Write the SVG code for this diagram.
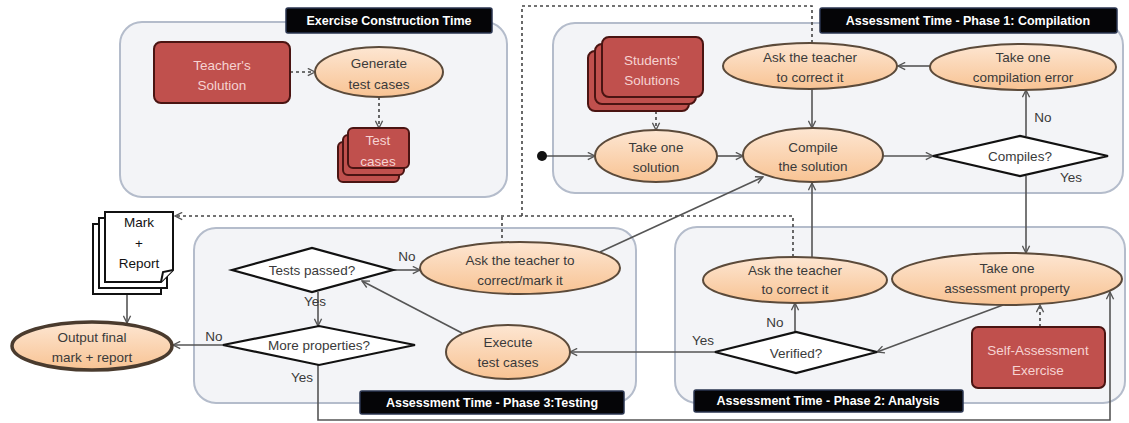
<svg xmlns="http://www.w3.org/2000/svg" width="1129" height="423" viewBox="0 0 1129 423">
<style>
.panel{fill:#f3f4f7;stroke:#b4bccb;stroke-width:2}
.title{fill:#050507;stroke:#2a3550;stroke-width:1.5}
.tt{fill:#ffffff;font-family:"Liberation Sans",Arial,sans-serif;font-size:12.5px;font-weight:bold;text-anchor:middle}
.ell{fill:url(#peach);stroke:#5b4a3a;stroke-width:2}
.red{fill:#c0504d;stroke:#4a1412;stroke-width:2}
.dia{fill:#ffffff;stroke:#111111;stroke-width:2.2}
.doc{fill:#ffffff;stroke:#111111;stroke-width:2}
.t{fill:#3a3a3a;font-family:"Liberation Sans",Arial,sans-serif;font-size:13.5px;text-anchor:middle}
.tr{fill:#f6d3d2;font-family:"Liberation Sans",Arial,sans-serif;font-size:13.5px;text-anchor:middle}
.tk{fill:#111111;font-family:"Liberation Sans",Arial,sans-serif;font-size:13.5px;text-anchor:middle}
.c{fill:none;stroke:#555555;stroke-width:1.6}
.d{fill:none;stroke:#444444;stroke-width:1.6;stroke-dasharray:3 3}
</style>
<defs>
<linearGradient id="peach" x1="0" y1="0" x2="0" y2="1">
<stop offset="0" stop-color="#fde6d2"/>
<stop offset="1" stop-color="#f8c393"/>
</linearGradient>
<marker id="arr" viewBox="0 0 10 10" refX="9" refY="5" markerWidth="9" markerHeight="9" orient="auto" markerUnits="userSpaceOnUse">
<path d="M1,1 L9,5 L1,9" fill="none" stroke="#555555" stroke-width="1.5"/>
</marker>
</defs>

<!-- panels -->
<g id="panel-exercise">
<rect class="panel" x="120" y="22" width="387" height="175" rx="22"/>
<rect class="title" x="286" y="8" width="206" height="25" rx="2"/>
<text class="tt" x="389" y="25">Exercise Construction Time</text>
</g>
<g id="panel-phase1">
<rect class="panel" x="553" y="23" width="570" height="170" rx="22"/>
<rect class="title" x="820" y="8" width="297" height="25" rx="2"/>
<text class="tt" x="968" y="25">Assessment Time - Phase 1: Compilation</text>
</g>
<g id="panel-phase3">
<rect class="panel" x="194" y="228" width="442" height="175" rx="22"/>
</g>
<g id="panel-phase2">
<rect class="panel" x="675" y="227" width="450" height="176" rx="22"/>
</g>

<!-- connectors -->
<g id="connectors">
<path class="d" d="M290,72 H315" marker-end="url(#arr)"/>
<path class="d" d="M379,97 V128" marker-end="url(#arr)"/>
<path class="d" d="M656,111 V130" marker-end="url(#arr)"/>
<path class="c" d="M542,156 H595" marker-end="url(#arr)"/>
<path class="c" d="M717,156 H743" marker-end="url(#arr)"/>
<path class="c" d="M883,156 H933" marker-end="url(#arr)"/>
<path class="c" d="M1026,136 V90" marker-end="url(#arr)"/>
<path class="c" d="M930,66 H898" marker-end="url(#arr)"/>
<path class="c" d="M812,89 V128" marker-end="url(#arr)"/>
<path class="c" d="M1026,176 V253" marker-end="url(#arr)"/>
<path class="c" d="M812,257 V183" marker-end="url(#arr)"/>
<path class="c" d="M600,252 L763,177" marker-end="url(#arr)"/>
<path class="c" d="M795,332 V303" marker-end="url(#arr)"/>
<path class="c" d="M1003,305 L877,352" marker-end="url(#arr)"/>
<path class="d" d="M1040,327 V305" marker-end="url(#arr)"/>
<path class="c" d="M715,352 H570" marker-end="url(#arr)"/>
<path class="c" d="M462,333 L362,281" marker-end="url(#arr)"/>
<path class="c" d="M393,270 H420" marker-end="url(#arr)"/>
<path class="c" d="M318,292 V326" marker-end="url(#arr)"/>
<path class="c" d="M223,345 H173" marker-end="url(#arr)"/>
<path class="c" d="M127,294 V323" marker-end="url(#arr)"/>
<path class="c" d="M318,365 V420 H1110 V292" marker-end="url(#arr)"/>
<path class="d" d="M812,43 V6 H522 V216"/>
<path class="d" d="M793,257 V216 H175" marker-end="url(#arr)"/>
<path class="d" d="M502,244 V216"/>
<circle cx="542" cy="156" r="5" fill="#111111"/>
</g>

<!-- phase title boxes over lines -->
<g id="title-phase3">
<rect class="title" x="360" y="391" width="264" height="23" rx="2"/>
<text class="tt" x="492" y="407">Assessment Time - Phase 3:Testing</text>
</g>
<g id="title-phase2">
<rect class="title" x="694" y="390" width="269" height="22" rx="2"/>
<text class="tt" x="828" y="405">Assessment Time - Phase 2: Analysis</text>
</g>

<!-- exercise construction -->
<g id="teachers-solution">
<rect class="red" x="154" y="42" width="136" height="61" rx="7"/>
<text class="tr" x="222" y="70">Teacher's</text>
<text class="tr" x="222" y="90">Solution</text>
</g>
<g id="generate-test-cases">
<ellipse class="ell" cx="379" cy="72" rx="64" ry="25"/>
<text class="t" x="379" y="68">Generate</text>
<text class="t" x="379" y="89">test cases</text>
</g>
<g id="test-cases">
<rect class="red" x="338" y="142" width="61" height="40" rx="5"/>
<rect class="red" x="343" y="135" width="61" height="40" rx="5"/>
<rect class="red" x="348" y="128" width="61" height="40" rx="5"/>
<text class="tr" x="378" y="145">Test</text>
<text class="tr" x="378" y="166">cases</text>
</g>

<!-- phase 1 -->
<g id="students-solutions">
<rect class="red" x="588" y="51" width="101" height="60" rx="7"/>
<rect class="red" x="595" y="44" width="101" height="60" rx="7"/>
<rect class="red" x="602" y="37" width="101" height="60" rx="7"/>
<text class="tr" x="652" y="65">Students'</text>
<text class="tr" x="652" y="85">Solutions</text>
</g>
<g id="take-one-solution">
<ellipse class="ell" cx="656" cy="156" rx="61" ry="26"/>
<text class="t" x="656" y="152">Take one</text>
<text class="t" x="656" y="172">solution</text>
</g>
<g id="compile-solution">
<ellipse class="ell" cx="813" cy="155" rx="70" ry="27"/>
<text class="t" x="813" y="152">Compile</text>
<text class="t" x="813" y="171">the solution</text>
</g>
<g id="ask-teacher-compile">
<ellipse class="ell" cx="810" cy="66" rx="87" ry="23"/>
<text class="t" x="810" y="62">Ask the teacher</text>
<text class="t" x="810" y="82">to correct it</text>
</g>
<g id="take-compilation-error">
<ellipse class="ell" cx="1023" cy="67" rx="93" ry="23"/>
<text class="t" x="1023" y="62">Take one</text>
<text class="t" x="1023" y="82">compilation error</text>
</g>
<g id="compiles">
<polygon class="dia" points="933,156 1020,136 1108,156 1020,176"/>
<text class="t" x="1020" y="161">Compiles?</text>
<text class="t" x="1043" y="122">No</text>
<text class="t" x="1071" y="182">Yes</text>
</g>

<!-- phase 2 -->
<g id="ask-teacher-analysis">
<ellipse class="ell" cx="795" cy="280" rx="92" ry="23"/>
<text class="t" x="795" y="275">Ask the teacher</text>
<text class="t" x="795" y="294">to correct it</text>
</g>
<g id="take-assessment-property">
<ellipse class="ell" cx="1007" cy="279" rx="115" ry="26"/>
<text class="t" x="1007" y="273">Take one</text>
<text class="t" x="1007" y="293">assessment property</text>
</g>
<g id="verified">
<polygon class="dia" points="715,352 796,332 877,352 796,373"/>
<text class="t" x="796" y="358">Verified?</text>
<text class="t" x="775" y="327">No</text>
<text class="t" x="703" y="345">Yes</text>
</g>
<g id="self-assessment-exercise">
<rect class="red" x="972" y="327" width="133" height="61" rx="6"/>
<text class="tr" x="1038" y="355">Self-Assessment</text>
<text class="tr" x="1038" y="375">Exercise</text>
</g>

<!-- phase 3 -->
<g id="tests-passed">
<polygon class="dia" points="232,270 312,248 393,270 312,292"/>
<text class="t" x="312" y="275">Tests passed?</text>
<text class="t" x="407" y="261">No</text>
<text class="t" x="315" y="306">Yes</text>
</g>
<g id="ask-teacher-mark">
<ellipse class="ell" cx="520" cy="268" rx="100" ry="26"/>
<text class="t" x="520" y="265">Ask the teacher to</text>
<text class="t" x="520" y="285">correct/mark it</text>
</g>
<g id="more-properties">
<polygon class="dia" points="223,345 319,326 415,345 319,365"/>
<text class="t" x="319" y="350">More properties?</text>
<text class="t" x="214" y="341">No</text>
<text class="t" x="302" y="382">Yes</text>
</g>
<g id="execute-test-cases">
<ellipse class="ell" cx="508" cy="352" rx="62" ry="27"/>
<text class="t" x="508" y="347">Execute</text>
<text class="t" x="508" y="367">test cases</text>
</g>

<!-- output -->
<g id="mark-report">
<path class="doc" d="M93,224 H161 V294 H93 Z"/>
<path class="doc" d="M99,218 H167 V288 H99 Z"/>
<path class="doc" d="M105,212 H173 V270 L161,282 H105 Z"/>
<path class="doc" d="M161,282 L163,272 L173,270"/>
<text class="tk" x="139" y="227">Mark</text>
<text class="tk" x="139" y="248">+</text>
<text class="tk" x="139" y="268">Report</text>
</g>
<g id="output-final">
<ellipse cx="92" cy="346" rx="80" ry="24" fill="url(#peach)" stroke="#4a3b2e" stroke-width="3.5"/>
<text class="t" x="92" y="342">Output final</text>
<text class="t" x="92" y="362">mark + report</text>
</g>
</svg>
